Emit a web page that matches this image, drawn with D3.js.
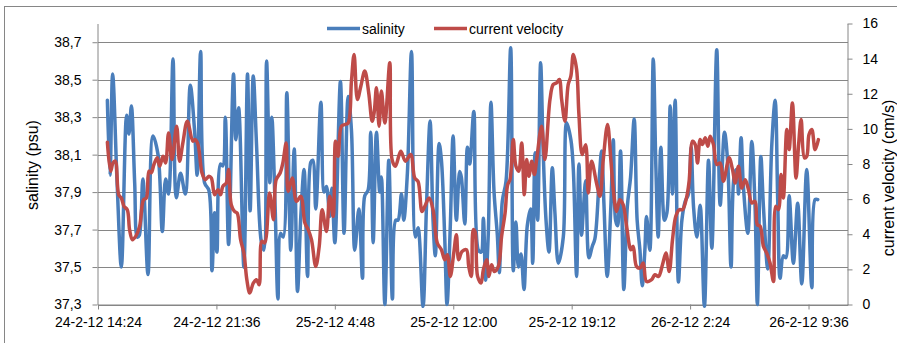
<!DOCTYPE html>
<html><head><meta charset="utf-8">
<script src="https://cdn.jsdelivr.net/npm/d3@7"></script>
<style>
html,body{margin:0;padding:0;background:#fff;}
svg{display:block;font-family:"Liberation Sans",Arial,sans-serif;}
</style></head><body>
<svg id="chart" width="897" height="343"></svg>
<script>
// hours since 24-2-12 14:24
const salinity = [
[0.57,38.39],[0.73,37.99],[0.89,38.53],[1.17,37.93],[1.42,37.50],[1.74,38.31],[1.88,38.21],[2.03,38.36],[2.23,37.95],[2.39,37.66],
[2.51,37.67],[2.73,37.97],[3.04,37.46],[3.34,38.20],[3.65,38.10],[3.91,37.69],[4.11,37.97],[4.29,37.89],[4.56,38.61],[4.76,37.87],
[5.02,38.00],[5.31,37.89],[5.61,38.47],[5.87,38.23],[6.03,37.99],[6.24,38.65],[6.48,37.95],[6.74,37.91],[6.93,37.48],[7.09,37.79],
[7.23,37.58],[7.45,38.05],[7.59,38.04],[7.74,38.30],[7.94,37.62],[8.24,38.53],[8.38,38.18],[8.55,38.35],[8.87,37.50],[9.09,38.53],
[9.25,37.80],[9.44,38.52],[9.64,38.15],[9.92,37.64],[10.08,37.59],[10.25,38.60],[10.45,37.95],[10.57,38.30],[10.77,37.82],[10.94,37.33],
[11.10,37.68],[11.26,37.66],[11.48,38.43],
[11.72,37.59],[11.93,38.13],[12.13,37.37],[12.33,37.77],[12.53,38.02],[12.74,37.45],[12.94,38.06],[13.06,38.07],[13.24,37.81],[13.55,38.38],
[13.75,37.90],[13.89,37.93],[14.09,37.77],[14.22,37.92],[14.40,37.63],[14.74,38.49],[14.96,37.68],[15.21,38.41],[15.41,38.23],[15.61,37.59],
[15.86,37.81],[16.08,37.44],[16.22,37.88],[16.42,37.91],[16.58,38.22],[16.73,37.63],[16.93,38.22],[17.13,37.90],[17.23,37.98],[17.44,37.30],
[17.68,38.07],[17.90,37.33],[18.10,37.75],[18.24,37.75],[18.45,37.89],[18.59,37.75],[18.81,38.00],[19.06,38.65],[19.30,37.66],[19.46,37.71],
[19.76,37.29],[19.97,37.82],[20.19,38.28],[20.37,37.75],[20.51,37.56],[20.74,38.16],[20.88,38.07],[21.08,37.66],[21.22,37.30],[21.42,37.72],
[21.59,38.20],[21.79,37.75],[21.99,38.01],[22.09,37.98],[22.30,37.73],[22.46,38.14],[22.60,38.05],[22.85,38.33],
[23.13,37.59],[23.29,37.58],[23.43,37.76],[23.57,37.43],[23.73,37.68],[23.89,38.38],[24.08,37.90],[24.28,37.67],[24.40,37.47],[24.58,37.85],
[24.81,37.96],[25.09,38.67],[25.25,37.48],[25.41,37.74],[25.56,37.50],[25.72,37.57],[25.90,37.38],[26.10,37.72],[26.30,37.81],[26.43,37.52],
[26.57,38.11],[26.73,37.75],[26.91,38.59],[27.07,38.11],[27.24,37.75],[27.42,37.58],[27.62,38.03],[27.78,37.79],[27.99,37.52],[28.29,37.66],
[28.49,38.27],[28.75,38.18],[28.90,38.02],[29.10,37.45],[29.24,38.05],[29.40,37.67],[29.50,37.79],[29.65,37.96],[29.85,37.55],[30.05,37.61],
[30.21,37.65],[30.48,37.98],[30.62,38.12],[30.76,37.84],[30.96,37.45],[31.18,37.82],[31.33,38.18],[31.47,37.75],[31.59,37.72],[31.77,38.12],
[31.97,37.38],[32.18,37.82],[32.38,37.98],[32.60,38.29],[32.78,37.75],[32.95,37.59],[33.09,37.40],[33.25,37.59],[33.35,37.77],[33.55,37.59],
[33.76,38.61],[33.92,38.03],[34.06,37.66],[34.22,38.14],
[34.44,37.75],[34.59,37.79],[34.79,38.36],[34.93,37.89],[35.09,38.39],[35.29,37.42],[35.50,37.75],[35.70,37.85],[35.90,37.89],[36.06,38.14],
[36.21,37.82],[36.41,37.66],[36.61,37.83],[36.87,37.29],[37.12,38.07],[37.32,37.60],[37.62,38.66],[37.83,37.83],[38.09,38.22],[38.29,38.05],
[38.49,37.50],[38.70,38.00],[38.84,38.02],[38.94,37.89],[39.10,38.19],[39.24,37.93],[39.51,37.68],[39.75,38.17],[39.95,37.82],[40.09,37.30],
[40.30,38.09],[40.46,37.82],[40.72,37.49],[40.96,38.14],[41.17,38.39],[41.33,37.84],[41.47,37.44],[41.67,37.56],[41.82,37.55],[42.02,37.88],
[42.28,37.52],[42.54,37.84],[42.79,37.41],[43.09,38.02],[43.40,37.39],[43.60,37.86],[43.76,37.86]
];
const currentVelocity = [
[0.57,9.24],[0.77,7.59],[0.91,8.06],[1.05,8.16],[1.26,6.25],[1.42,6.06],[1.58,5.59],[1.78,5.40],[1.92,4.26],[2.09,3.69],
[2.29,3.88],[2.53,4.45],[2.77,5.97],[2.94,6.06],[3.10,7.59],[3.24,7.50],[3.40,7.97],[3.60,8.35],[3.75,7.87],[3.95,8.44],
[4.11,8.06],[4.29,9.77],[4.50,8.25],[4.78,10.15],[4.96,8.16],[5.16,9.20],[5.43,10.44],[5.77,9.30],[5.91,9.39],[6.08,9.11],
[6.32,7.50],[6.52,7.10],[6.74,7.30],[6.89,7.20],[7.09,6.25],[7.29,6.54],[7.45,6.25],[7.59,6.73],[7.80,6.92],[7.94,7.68],
[8.10,5.68],[8.30,5.30],[8.46,5.21],[8.67,3.69],[8.87,2.93],[9.05,1.41],[9.23,0.65],[9.44,1.22],[9.64,1.41],[9.80,1.12],
[9.96,3.60],[10.13,3.50],[10.43,6.35],[10.67,4.83],[10.83,7.10],[11.08,7.50],[11.24,8.06],[11.44,9.20],
[11.56,6.44],[11.81,7.20],[12.07,5.87],[12.33,6.16],[12.58,4.64],[12.78,4.26],[12.98,3.69],[13.24,2.17],[13.45,3.31],[13.63,5.40],
[13.89,4.16],[14.09,6.16],[14.30,5.02],[14.44,9.30],[14.60,8.44],[14.80,10.15],[15.01,10.25],[15.21,10.34],[15.41,12.72],[15.57,14.24],
[15.77,11.67],[15.98,12.43],[16.22,13.29],[16.46,12.05],[16.67,10.44],[16.79,10.92],[16.93,12.34],[17.09,10.15],[17.23,12.15],[17.44,10.34],
[17.74,13.76],[17.88,8.25],[18.08,7.87],[18.41,8.73],[18.69,8.16],[19.01,8.54],[19.26,7.20],[19.46,7.00],[19.70,5.30],[19.87,5.59],
[20.13,6.06],[20.37,5.40],[20.63,3.50],[20.88,3.12],[21.08,2.55],[21.24,2.83],[21.42,1.60],[21.63,2.93],[21.79,3.97],[21.93,2.55],
[22.13,3.02],[22.40,3.12],[22.54,2.17],[22.70,1.60],[22.82,4.26],[22.92,4.16],
[23.08,1.60],[23.29,1.22],[23.43,1.98],[23.63,2.55],[23.77,1.60],[23.93,2.26],[24.10,1.88],[24.34,2.17],[24.54,3.88],[24.75,5.21],
[24.91,6.83],[25.05,7.11],[25.25,9.39],[25.41,7.87],[25.58,7.59],[25.76,9.20],[25.92,6.25],[26.06,8.25],[26.20,7.30],[26.37,8.16],
[26.53,7.40],[26.67,8.25],[26.97,10.15],[27.17,8.25],[27.48,11.67],[27.68,12.53],[27.88,12.62],[28.05,12.81],[28.19,11.67],[28.39,10.44],
[28.59,12.53],[28.75,13.00],[28.90,14.24],[29.10,13.38],[29.24,10.82],[29.44,8.54],[29.65,9.10],[29.81,6.35],[30.01,8.16],[30.31,6.92],
[30.52,6.16],[30.72,8.25],[30.98,10.25],[31.18,8.25],[31.33,6.54],[31.53,5.30],[31.73,5.97],[31.93,5.68],[32.14,4.45],[32.40,3.12],
[32.54,3.31],[32.74,2.17],[32.95,2.07],[33.15,2.36],[33.35,1.31],[33.66,1.41],[33.86,1.70],[34.08,1.60],
[34.32,2.26],[34.53,2.93],[34.73,1.88],[34.93,3.69],[35.13,5.02],[35.34,5.40],[35.54,5.40],[35.80,6.16],[35.94,7.02],[36.15,9.30],
[36.31,9.11],[36.45,8.06],[36.61,9.39],[36.75,9.11],[36.92,9.49],[37.08,9.01],[37.22,9.58],[37.42,9.11],[37.62,7.97],[37.83,8.06],
[38.03,7.02],[38.37,8.35],[38.58,7.68],[38.74,6.92],[38.94,7.87],[39.14,6.63],[39.35,7.10],[39.55,6.54],[39.75,5.78],[39.95,5.87],
[40.09,4.54],[40.26,4.45],[40.46,3.31],[40.66,2.93],[40.86,2.36],[41.07,1.31],[41.21,5.59],[41.37,5.40],[41.53,7.40],[41.67,6.06],
[41.88,9.96],[42.02,8.82],[42.22,11.48],[42.44,7.20],[42.59,9.01],[42.75,10.53],[42.95,8.35],[43.09,8.44],[43.23,9.68],[43.40,9.96],
[43.60,8.82],[43.80,9.39]
];
const salinityTicks = [37.3, 37.5, 37.7, 37.9, 38.1, 38.3, 38.5, 38.7];
const velocityTicks = [0, 2, 4, 6, 8, 10, 12, 14, 16];
const timeTickHours = [0, 7.2, 14.4, 21.6, 28.8, 36, 43.2];
const timeTickLabels = ["24-2-12 14:24","24-2-12 21:36","25-2-12 4:48","25-2-12 12:00","25-2-12 19:12","26-2-12 2:24","26-2-12 9:36"];
const seriesNames = ["salinity", "current velocity"];
const axisTitles = ["salinity (psu)", "current velocity (cm/s)"];

const t0 = new Date(2012, 1, 24, 14, 24);
const toDate = h => new Date(t0.getTime() + h * 3600000);

const svg = d3.select("#chart");
const L = 98, R = 848, T = 23.5, B = 304.5;
const axisColor = "#868686";
const blue = "#4A7EBB", red = "#BE4B48";
const FONT = '"Liberation Sans",Arial,sans-serif';

svg.append("rect").attr("x", 4.5).attr("y", 6.5).attr("width", 900).attr("height", 345)
  .attr("fill", "#fff").attr("stroke", axisColor).attr("stroke-width", 1);

const x = d3.scaleTime().domain([t0, toDate(45.6)]).range([L, R]);
const yL = d3.scaleLinear().domain([37.3, 38.8]).range([B, T]);
const yR = d3.scaleLinear().domain([0, 16]).range([B, T]);

// gridlines
svg.append("g").selectAll("line").data(salinityTicks).join("line")
  .attr("x1", L).attr("x2", R)
  .attr("y1", d => Math.round(yL(d)) + 0.5).attr("y2", d => Math.round(yL(d)) + 0.5)
  .attr("stroke", axisColor).attr("stroke-width", 1);

function styleAxis(g) {
  g.selectAll(".domain").attr("stroke", axisColor);
  g.selectAll(".tick line").attr("stroke", axisColor);
  g.selectAll(".tick text").attr("fill", "#000").attr("font-size", "14px").attr("font-family", FONT);
}

const gL = svg.append("g").attr("transform", `translate(${L - 0.5},0)`)
  .call(d3.axisLeft(yL).tickValues(salinityTicks).tickSize(5).tickSizeOuter(0).tickPadding(11)
    .tickFormat(d => d.toFixed(1).replace(".", ",")));
styleAxis(gL);

const gR = svg.append("g").attr("transform", `translate(${R - 0.5},0)`)
  .call(d3.axisRight(yR).tickValues(velocityTicks).tickSize(5).tickSizeOuter(0).tickPadding(10));
styleAxis(gR);

const gX = svg.append("g").attr("transform", `translate(0,${B})`)
  .call(d3.axisBottom(x).tickValues(timeTickHours.map(toDate)).tickSize(5).tickSizeOuter(0).tickPadding(8)
    .tickFormat((d, i) => timeTickLabels[i]));
styleAxis(gX);

// lines
const lineSal = d3.line().x(d => x(toDate(d[0]))).y(d => yL(d[1])).curve(d3.curveCatmullRom.alpha(0.5));
const lineVel = d3.line().x(d => x(toDate(d[0]))).y(d => yR(d[1])).curve(d3.curveCatmullRom.alpha(0.5));

svg.append("path").datum(salinity).attr("d", lineSal).attr("fill", "none")
  .attr("stroke", blue).attr("stroke-width", 3.5).attr("stroke-linejoin", "round").attr("stroke-linecap", "round");
svg.append("path").datum(currentVelocity).attr("d", lineVel).attr("fill", "none")
  .attr("stroke", red).attr("stroke-width", 3.5).attr("stroke-linejoin", "round").attr("stroke-linecap", "round");

// axis titles
svg.append("text").attr("transform", `translate(38,165) rotate(-90)`).attr("text-anchor", "middle")
  .attr("font-size", "16px").text(axisTitles[0]);
svg.append("text").attr("transform", `translate(894,178) rotate(-90)`).attr("text-anchor", "middle")
  .attr("font-size", "16px").text(axisTitles[1]);

// legend
const legend = [{name: seriesNames[0], color: blue, x: 327}, {name: seriesNames[1], color: red, x: 434}];
const lg = svg.append("g");
legend.forEach(d => {
  lg.append("line").attr("x1", d.x).attr("x2", d.x + 33).attr("y1", 28.5).attr("y2", 28.5)
    .attr("stroke", d.color).attr("stroke-width", 3.5);
  lg.append("text").attr("x", d.x + 35).attr("y", 34).attr("font-size", "14px").text(d.name);
});
</script>
</body></html>
